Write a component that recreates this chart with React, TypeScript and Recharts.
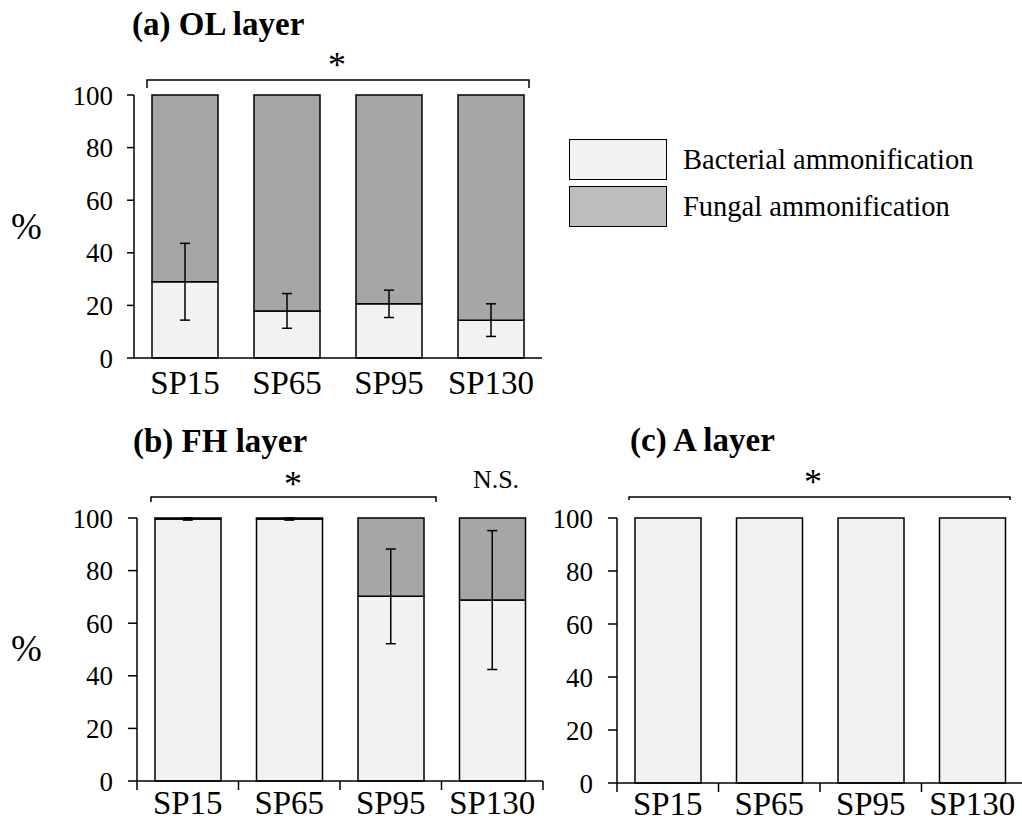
import React from 'react';
import { ComposedChart, Bar, Line, XAxis, YAxis, ErrorBar, Legend } from 'recharts';

const FONT = 'Liberation Serif, Times New Roman, serif';

const categories = ['SP15', 'SP65', 'SP95', 'SP130'];
const yTicks = [0, 20, 40, 60, 80, 100];
const seriesNames = ['Bacterial ammonification', 'Fungal ammonification'];

// (a) OL layer
const olBacterial = [29.0, 17.9, 20.6, 14.4];
const olFungal = [71.0, 82.1, 79.4, 85.6];
const olError = [14.6, 6.6, 5.2, 6.2];

// (b) FH layer
const fhBacterial = [99.6, 99.6, 70.2, 68.8];
const fhFungal = [0.4, 0.4, 29.8, 31.2];
const fhError = [0.4, 0.4, 18.0, 26.4];

// (c) A layer
const aBacterial = [100, 100, 100, 100];
const aFungal = [0, 0, 0, 0];

const BACT_FILL = '#f2f2f2';
const FUNG_FILL = '#a6a6a6';
const legendSwatches: Record<string, string> = { bacterial: '#f2f2f2', fungal: '#bdbdbd' };

const buildRows = (b: number[], f: number[], e?: number[]) =>
  categories.map((c, i) => ({ category: c, bacterial: b[i], fungal: f[i], error: e ? e[i] : 0 }));

const olData = buildRows(olBacterial, olFungal, olError);
const fhData = buildRows(fhBacterial, fhFungal, fhError);
const aData = buildRows(aBacterial, aFungal);

const makeCategoryTick = (margin: number, boundary: boolean) => (props: any) => {
  const { x, y, payload, index, visibleTicksCount } = props;
  const off = payload && payload.offset ? payload.offset : 0;
  const axisY = y - margin;
  return (
    <g>
      {boundary && (
        <line x1={x - off} x2={x - off} y1={axisY} y2={axisY + 9} stroke="#000" strokeWidth={1.5} />
      )}
      {boundary && index === visibleTicksCount - 1 && (
        <line x1={x + off} x2={x + off} y1={axisY} y2={axisY + 9} stroke="#000" strokeWidth={1.5} />
      )}
      <text x={x} y={y} dy="0.71em" textAnchor="middle" fontSize={33} fontFamily={FONT} fill="#000">
        {payload.value}
      </text>
    </g>
  );
};

const renderLegend = (props: any) => {
  const payload = (props.payload || []).filter((p: any) => p.type !== 'none');
  return (
    <div style={{ display: 'flex', flexDirection: 'column', gap: 6 }}>
      {payload.map((entry: any, i: number) => (
        <div key={i} style={{ display: 'flex', alignItems: 'center', height: 41 }}>
          <div
            style={{
              width: 98,
              height: 41,
              boxSizing: 'border-box',
              border: '1.5px solid #000',
              background: legendSwatches[entry.dataKey] || '#ccc',
            }}
          />
          <span style={{ marginLeft: 16, fontSize: 28.5, fontFamily: FONT, color: '#000', whiteSpace: 'nowrap' }}>
            {entry.value}
          </span>
        </div>
      ))}
    </div>
  );
};

type PanelProps = {
  data: any[];
  width: number;
  height: number;
  margin: { top: number; right: number; bottom: number; left: number };
  xHeight: number;
  yTickSize: number;
  yTickMargin: number;
  xTickMargin: number;
  boundaryTicks: boolean;
  showError: boolean;
  withLegend?: boolean;
};

function Panel(p: PanelProps) {
  return (
    <ComposedChart width={p.width} height={p.height} data={p.data} margin={p.margin}>
      <XAxis
        dataKey="category"
        interval={0}
        height={p.xHeight}
        axisLine={{ stroke: '#000', strokeWidth: 1.5 }}
        tickLine={false}
        tickSize={0}
        tickMargin={p.xTickMargin}
        tick={makeCategoryTick(p.xTickMargin, p.boundaryTicks)}
      />
      <YAxis
        width={60}
        domain={[0, 100]}
        ticks={yTicks}
        interval={0}
        axisLine={{ stroke: '#000', strokeWidth: 1.5 }}
        tickLine={{ stroke: '#000', strokeWidth: 1.5 }}
        tickSize={p.yTickSize}
        tickMargin={p.yTickMargin}
        tick={{ fontSize: 27, fontFamily: FONT, fill: '#000' }}
      />
      <Bar
        dataKey="bacterial"
        name={seriesNames[0]}
        stackId="s"
        fill={BACT_FILL}
        stroke="#000"
        strokeWidth={1.5}
        barSize={66}
        isAnimationActive={false}
      />
      <Bar
        dataKey="fungal"
        name={seriesNames[1]}
        stackId="s"
        fill={FUNG_FILL}
        stroke="#000"
        strokeWidth={1.5}
        barSize={66}
        isAnimationActive={false}
      />
      {p.showError && (
        <Line
          dataKey="bacterial"
          stroke="none"
          dot={false}
          activeDot={false}
          legendType="none"
          isAnimationActive={false}
        >
          <ErrorBar dataKey="error" width={5} stroke="#000" strokeWidth={1.5} direction="y" />
        </Line>
      )}
      {p.withLegend && (
        <Legend
          layout="horizontal"
          verticalAlign="middle"
          align="center"
          width={440}
          wrapperStyle={{ left: 569, top: 139 }}
          content={renderLegend}
        />
      )}
    </ComposedChart>
  );
}

const textStyle = { fontFamily: FONT, fill: '#000' } as const;

export default function App() {
  return (
    <div
      style={{
        position: 'absolute',
        left: 0,
        top: 0,
        width: 1022,
        height: 816,
        overflow: 'hidden',
        background: '#fff',
        fontFamily: FONT,
      }}
    >
      <div style={{ position: 'absolute', left: 0, top: 0 }}>
        <Panel
          data={olData}
          width={1022}
          height={400}
          margin={{ top: 95, right: 480, bottom: 0, left: 74 }}
          xHeight={42}
          yTickSize={7}
          yTickMargin={14}
          xTickMargin={13}
          boundaryTicks={false}
          showError={true}
          withLegend={true}
        />
      </div>
      <div style={{ position: 'absolute', left: 0, top: 440 }}>
        <Panel
          data={fhData}
          width={560}
          height={376}
          margin={{ top: 78, right: 17, bottom: 0, left: 77 }}
          xHeight={35}
          yTickSize={9}
          yTickMargin={15}
          xTickMargin={10}
          boundaryTicks={true}
          showError={true}
        />
      </div>
      <div style={{ position: 'absolute', left: 540, top: 440 }}>
        <Panel
          data={aData}
          width={483}
          height={376}
          margin={{ top: 78, right: 0, bottom: 0, left: 17 }}
          xHeight={33}
          yTickSize={9}
          yTickMargin={15}
          xTickMargin={9}
          boundaryTicks={true}
          showError={false}
        />
      </div>
      <svg
        width={1022}
        height={816}
        style={{ position: 'absolute', left: 0, top: 0, pointerEvents: 'none' }}
      >
        <text x={132} y={35} fontSize={33} fontWeight="bold" {...textStyle}>(a) OL layer</text>
        <text x={133} y={452} fontSize={33} fontWeight="bold" {...textStyle}>(b) FH layer</text>
        <text x={630} y={451} fontSize={33} fontWeight="bold" {...textStyle}>(c) A layer</text>

        <text x={11} y={239} fontSize={37} {...textStyle}>%</text>
        <text x={11} y={661} fontSize={37} {...textStyle}>%</text>

        <path d="M147,88 V80 H529 V88" fill="none" stroke="#000" strokeWidth={1.5} />
        <text x={337} y={77} fontSize={36} textAnchor="middle" {...textStyle}>*</text>

        <path d="M151,502 V497 H436 V502" fill="none" stroke="#000" strokeWidth={1.5} />
        <text x={293} y={496} fontSize={36} textAnchor="middle" {...textStyle}>*</text>
        <text x={496} y={488} fontSize={26} textAnchor="middle" {...textStyle}>N.S.</text>

        <path d="M629,500 V497 H1010 V500" fill="none" stroke="#000" strokeWidth={1.5} />
        <text x={813} y={494} fontSize={36} textAnchor="middle" {...textStyle}>*</text>
      </svg>
    </div>
  );
}
